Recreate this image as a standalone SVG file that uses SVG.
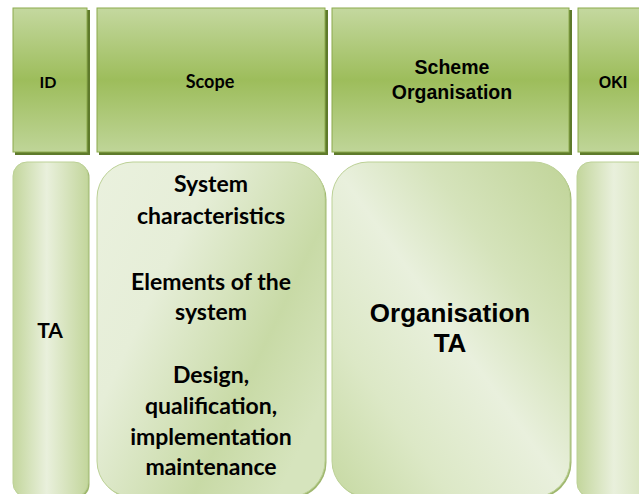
<svg xmlns="http://www.w3.org/2000/svg" width="639" height="494" viewBox="0 0 639 494">
<defs>
<linearGradient id="hdr" x1="0" y1="0" x2="0" y2="1">
<stop offset="0" stop-color="#c4d89f"/>
<stop offset="0.5" stop-color="#9dbd5b"/>
<stop offset="1" stop-color="#bfd598"/>
</linearGradient>
<linearGradient id="gTA" x1="0" y1="0" x2="1" y2="0">
<stop offset="0" stop-color="#c3d69c"/>
<stop offset="0.45" stop-color="#e9f0dc"/>
<stop offset="1" stop-color="#c3d69c"/>
</linearGradient>
<linearGradient id="gScope" x1="0" y1="0" x2="1" y2="0.7">
<stop offset="0" stop-color="#eaf1de"/>
<stop offset="0.35" stop-color="#e6eed8"/>
<stop offset="0.75" stop-color="#c8daa6"/>
<stop offset="1" stop-color="#d6e4bd"/>
</linearGradient>
<linearGradient id="gOrg" x1="1" y1="0" x2="0" y2="1">
<stop offset="0" stop-color="#c0d498"/>
<stop offset="0.3" stop-color="#d5e3bb"/>
<stop offset="0.5" stop-color="#e9f0dd"/>
<stop offset="0.75" stop-color="#dce8c6"/>
<stop offset="1" stop-color="#c6d9a2"/>
</linearGradient>
<linearGradient id="gOKI" x1="577" y1="0" x2="700" y2="0" gradientUnits="userSpaceOnUse">
<stop offset="0" stop-color="#c3d69c"/>
<stop offset="0.3" stop-color="#e9f0dc"/>
<stop offset="0.6" stop-color="#d4e2b8"/>
<stop offset="1" stop-color="#c3d69c"/>
</linearGradient>
</defs>
<style>
.hdr{fill:url(#hdr);stroke:#8caa4d;stroke-width:1}
.hsh{fill:#5e7a2b}
.bsh{fill:#9fb76e}
.bx{stroke:#bcd196;stroke-width:1}
.cal{font-family:Lato,"Open Sans","DejaVu Sans",sans-serif;font-weight:bold;fill:#000;text-anchor:middle}
.ari{font-family:"Liberation Sans",Arial,sans-serif;font-weight:bold;fill:#000;text-anchor:middle}
</style>
<rect width="639" height="494" fill="#ffffff"/>
<g id="hdr-id">
<rect class="hsh" x="15" y="10" width="75" height="145"/>
<rect class="hdr" x="13" y="8" width="74" height="144"/>
<text class="cal" x="48" y="88" font-size="16">ID</text>
</g>
<g id="hdr-scope">
<rect class="hsh" x="99" y="10" width="229" height="145"/>
<rect class="hdr" x="97" y="8" width="228" height="144"/>
<text class="cal" x="210" y="88" font-size="18">Scope</text>
</g>
<g id="hdr-scheme">
<rect class="hsh" x="334" y="10" width="238" height="145"/>
<rect class="hdr" x="332" y="8" width="237" height="144"/>
<text class="ari" x="452" y="74" font-size="19.5">Scheme</text>
<text class="ari" x="452" y="99" font-size="19.5">Organisation</text>
</g>
<g id="hdr-oki">
<rect class="hsh" x="580" y="10" width="70" height="145"/>
<rect class="hdr" x="578" y="8" width="70" height="144"/>
<text class="ari" x="613" y="88" font-size="16">OKI</text>
</g>
<g id="col-ta">
<rect class="bsh" x="14.5" y="163.5" width="75" height="335" rx="14"/>
<rect class="bx" x="13" y="162" width="75" height="335" rx="14" fill="url(#gTA)"/>
<text class="cal" x="50" y="338" font-size="21">TA</text>
</g>
<g id="col-scope">
<rect class="bsh" x="98.5" y="163.5" width="228" height="335" rx="36"/>
<rect class="bx" x="97" y="162" width="228" height="335" rx="36" fill="url(#gScope)"/>
<text class="cal" x="211" y="192" font-size="23">System</text>
<text class="cal" x="211" y="224" font-size="23">characteristics</text>
<text class="cal" x="211" y="290" font-size="23">Elements of the</text>
<text class="cal" x="211" y="320" font-size="23">system</text>
<text class="cal" x="211" y="383" font-size="23">Design,</text>
<text class="cal" x="211" y="414" font-size="23">qualification,</text>
<text class="cal" x="211" y="445" font-size="23">implementation</text>
<text class="cal" x="211" y="475" font-size="23">maintenance</text>
</g>
<g id="col-org">
<rect class="bsh" x="333.5" y="163.5" width="238" height="335" rx="36"/>
<rect class="bx" x="332" y="162" width="238" height="335" rx="36" fill="url(#gOrg)"/>
<text class="ari" x="450" y="322" font-size="26">Organisation</text>
<text class="ari" x="450" y="352" font-size="26">TA</text>
</g>
<g id="col-oki">
<rect class="bsh" x="578.5" y="163.5" width="100" height="335" rx="14"/>
<rect class="bx" x="577" y="162" width="100" height="335" rx="14" fill="url(#gOKI)"/>
</g>
<g id="connectors"/>
</svg>
